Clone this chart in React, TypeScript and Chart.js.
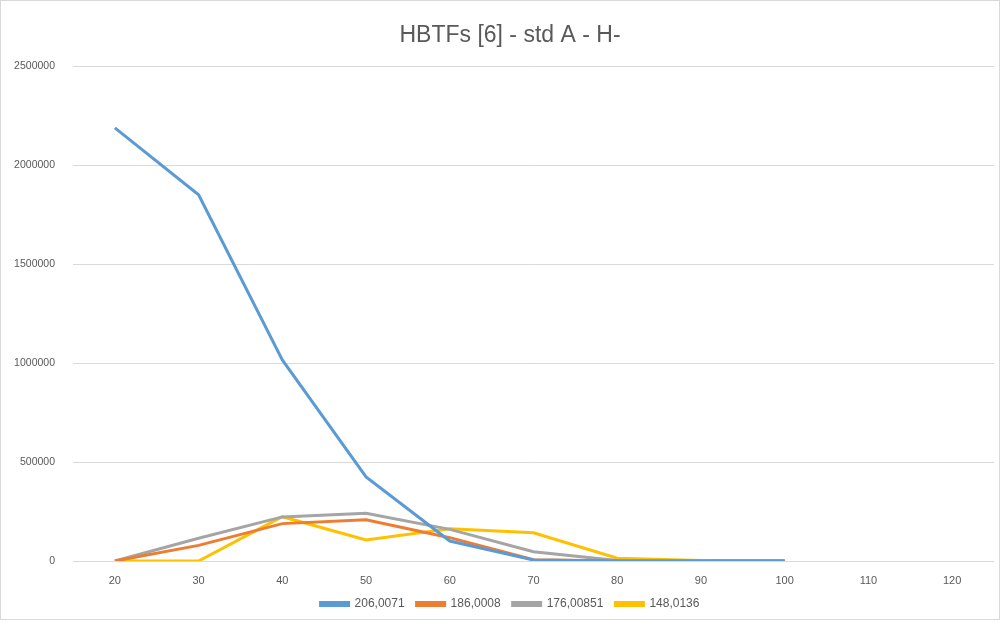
import React, { useEffect, useRef } from "react";
import { Chart, registerables } from "chart.js";

Chart.register(...registerables);

const categories = ["20", "30", "40", "50", "60", "70", "80", "90", "100", "110", "120"];
const series206 = [2190000, 1852000, 1017000, 425000, 101000, 5000, 0, 0, 0, null, null];
const series186 = [0, 79000, 189000, 209000, 118000, 6000, 0, 0, 0, null, null];
const series176 = [0, 115000, 223000, 241000, 160000, 47000, 2000, 0, 0, null, null];
const series148 = [0, 0, 224000, 106000, 163000, 143000, 14000, 3000, 1000, null, null];
const seriesNames = ["206,0071", "186,0008", "176,00851", "148,0136"];
const seriesColors = ["#5B9BD5", "#ED7D31", "#A5A5A5", "#FFC000"];
const titleText = "HBTFs [6] - std A - H-";

const FONT = "'Liberation Sans Narrow', 'Liberation Sans', 'DejaVu Sans', sans-serif";

const shiftBoxes = {
  id: "shiftBoxes",
  afterLayout(chart: any) {
    const t = chart.titleBlock;
    if (t) {
      t.left += 13;
      t.right += 13;
    }
    const l = chart.legend;
    if (l) {
      l.left += 13;
      l.right += 13;
    }
  },
};

export default function App() {
  const ref = useRef<HTMLCanvasElement | null>(null);
  useEffect(() => {
    if (!ref.current) return;
    const values = [series206, series186, series176, series148];
    const chart = new Chart(ref.current, {
      type: "line",
      data: {
        labels: categories,
        datasets: values.map((v, i) => ({
          label: seriesNames[i],
          data: v,
          borderColor: seriesColors[i],
          backgroundColor: seriesColors[i],
          borderWidth: 3,
          pointRadius: 0,
          tension: 0,
          spanGaps: false,
        })),
      },
      plugins: [shiftBoxes],
      options: {
        animation: false,
        responsive: false,
        maintainAspectRatio: false,
        layout: { padding: { left: 0, right: 9, top: 0, bottom: 3 } },
        plugins: {
          title: {
            display: true,
            text: titleText,
            color: "#595959",
            font: { family: FONT, size: 23, weight: "normal" },
            padding: { top: 22, bottom: 17 },
          },
          legend: {
            position: "bottom",
            labels: {
              color: "#595959",
              font: { family: FONT, size: 12 },
              boxWidth: 28,
              boxHeight: 3,
              padding: 12,
            },
          },
          tooltip: { enabled: false },
        },
        scales: {
          x: {
            offset: true,
            grid: { display: false, drawTicks: false },
            border: { display: false },
            ticks: {
              color: "#595959",
              font: { family: FONT, size: 11 },
              padding: 13,
              maxRotation: 0,
            },
            afterFit: (scale: any) => {
              scale.height = 25;
            },
          },
          y: {
            min: 0,
            max: 2500000,
            grid: { color: "#D9D9D9", lineWidth: 1, drawTicks: false },
            border: { display: false },
            ticks: {
              stepSize: 500000,
              color: "#595959",
              font: { family: FONT, size: 10.5 },
              padding: 18,
              callback: (v: any) => String(v),
            },
            afterFit: (scale: any) => {
              scale.width = 73;
            },
          },
        },
      },
    });
    return () => chart.destroy();
  }, []);
  return (
    <div
      style={{
        position: "fixed",
        left: 0,
        top: 0,
        width: 1003,
        height: 623,
        background: "#ffffff",
      }}
    >
      <div
        style={{
          position: "absolute",
          left: 0,
          top: 0,
          width: 1000,
          height: 620,
          border: "1px solid #D9D9D9",
          boxSizing: "border-box",
        }}
      />
      <canvas ref={ref} width={1003} height={623} style={{ position: "absolute", left: 0, top: 0 }} />
    </div>
  );
}
